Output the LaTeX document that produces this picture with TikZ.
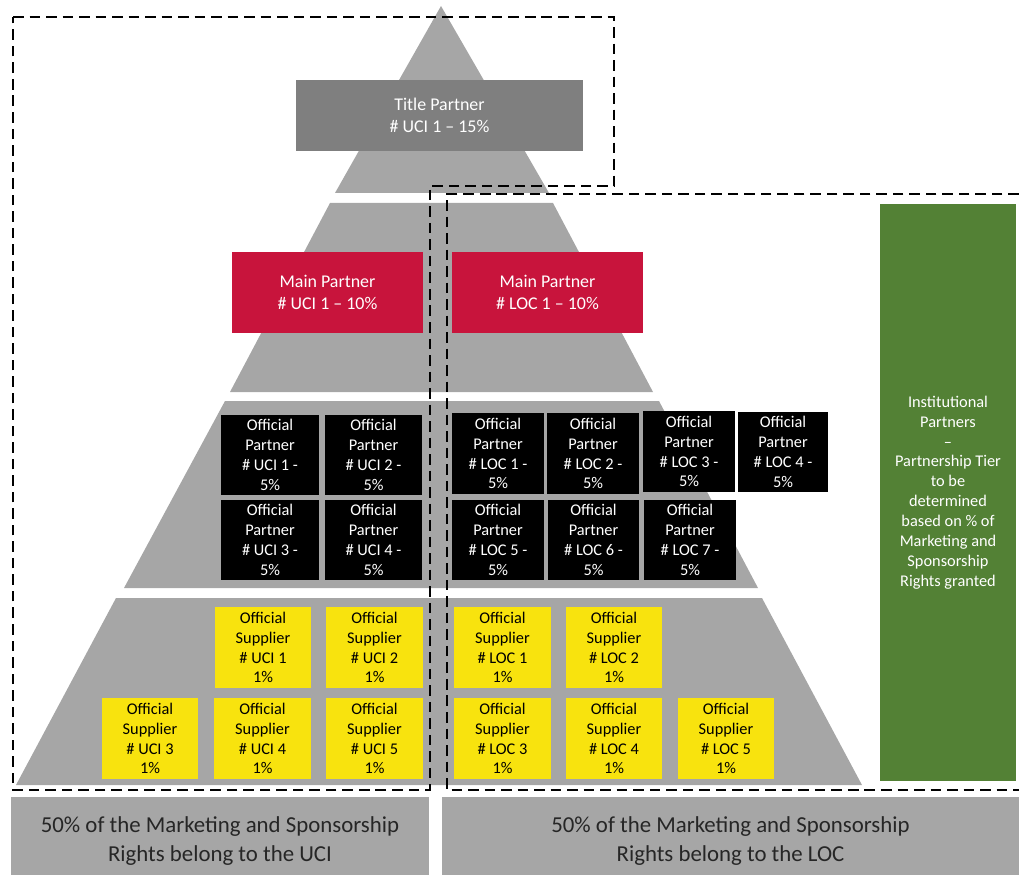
\documentclass[tikz,border=0pt]{standalone}
\usepackage{fontspec}
\setmainfont{Carlito}
\definecolor{pyrgray}{HTML}{A6A6A6}
\definecolor{titlegray}{HTML}{7F7F7F}
\definecolor{mainred}{HTML}{C8143C}
\definecolor{supyellow}{HTML}{F8E30E}
\definecolor{instgreen}{HTML}{538135}
\definecolor{sharetext}{HTML}{262626}
\begin{document}
\begin{tikzpicture}[x=0.02cm, y=-0.02cm,
    txt/.style={font=\fontsize{9.3}{11.3}\selectfont, align=center, inner sep=0pt},
    title/.style={fill=titlegray, text=white, font=\fontsize{10.2}{12.5}\selectfont, align=center, inner sep=0pt, minimum width=5.74cm, minimum height=1.42cm},
    main/.style={fill=mainred, text=white, font=\fontsize{10.2}{12.5}\selectfont, align=center, inner sep=0pt, minimum width=3.82cm, minimum height=1.62cm},
    partner/.style={txt, fill=black, text=white, minimum width=1.84cm, minimum height=1.62cm},
    supplier/.style={txt, fill=supyellow, text=black, minimum width=1.94cm, minimum height=1.62cm},
    inst/.style={txt, fill=instgreen, text=white, minimum width=2.72cm, minimum height=11.54cm},
    share/.style={fill=pyrgray, text=sharetext, font=\fontsize{13}{16.5}\selectfont, align=center, inner sep=0pt, minimum height=1.76cm},
    split/.style={line width=1.4pt, dash pattern=on 6pt off 3.4pt}]
    \useasboundingbox (0,0) rectangle (1019,875);

    % pyramid tiers
    \fill[pyrgray] (441,6) -- (549,193) -- (335,193) -- cycle;
    \fill[pyrgray] (330,203) -- (553,203) -- (653,392) -- (230,392) -- cycle;
    \fill[pyrgray] (225,401) -- (659,401) -- (758,588) -- (124,588) -- cycle;
    \fill[pyrgray] (116,598) -- (762,598) -- (862,785) -- (16,785) -- cycle;

    \node[title] (tp) at (439.5,115.5) {Title Partner\\\# UCI 1 – 15\%};
    \node[main] (mu) at (327.5,292.5) {Main Partner\\\# UCI 1 – 10\%};
    \node[main] (ml) at (547.5,292.5) {Main Partner\\\# LOC 1 – 10\%};

    \node[partner, minimum width=1.96cm] (pu1) at (270,455) {Official\\Partner\\\# UCI 1 -\\5\%};
    \node[partner, minimum width=1.96cm] (pu2) at (373.5,455) {Official\\Partner\\\# UCI 2 -\\5\%};
    \node[partner, minimum width=1.96cm] (pu3) at (270,540) {Official\\Partner\\\# UCI 3 -\\5\%};
    \node[partner, minimum width=1.96cm] (pu4) at (373.5,540) {Official\\Partner\\\# UCI 4 -\\5\%};
    \node[partner] (pl1) at (498,453.5) {Official\\Partner\\\# LOC 1 -\\5\%};
    \node[partner] (pl2) at (593,453.5) {Official\\Partner\\\# LOC 2 -\\5\%};
    \node[partner] (pl3) at (689,451.5) {Official\\Partner\\\# LOC 3 -\\5\%};
    \node[partner, minimum width=1.8cm] (pl4) at (783,452) {Official\\Partner\\\# LOC 4 -\\5\%};
    \node[partner] (pl5) at (498,540) {Official\\Partner\\\# LOC 5 -\\5\%};
    \node[partner] (pl6) at (593.5,540) {Official\\Partner\\\# LOC 6 -\\5\%};
    \node[partner] (pl7) at (690,540) {Official\\Partner\\\# LOC 7 -\\5\%};

    \node[supplier] (su1) at (263,647.5) {Official\\Supplier\\\# UCI 1\\1\%};
    \node[supplier] (su2) at (374.5,647.5) {Official\\Supplier\\\# UCI 2\\1\%};
    \node[supplier] (sl1) at (502.5,647.5) {Official\\Supplier\\\# LOC 1\\1\%};
    \node[supplier] (sl2) at (614,647.5) {Official\\Supplier\\\# LOC 2\\1\%};
    \node[supplier] (su3) at (150,738.5) {Official\\Supplier\\\# UCI 3\\1\%};
    \node[supplier] (su4) at (262.5,738.5) {Official\\Supplier\\\# UCI 4\\1\%};
    \node[supplier] (su5) at (374.5,738.5) {Official\\Supplier\\\# UCI 5\\1\%};
    \node[supplier] (sl3) at (502.5,738.5) {Official\\Supplier\\\# LOC 3\\1\%};
    \node[supplier] (sl4) at (614,738.5) {Official\\Supplier\\\# LOC 4\\1\%};
    \node[supplier] (sl5) at (726,738.5) {Official\\Supplier\\\# LOC 5\\1\%};

    \node[inst] (ip) at (948,492.5) {Institutional\\Partners\\–\\Partnership Tier\\to be\\determined\\based on \% of\\Marketing and\\Sponsorship\\Rights granted};

    \node[share, minimum width=8.36cm] (ru) at (220,841) {50\% of the Marketing and Sponsorship\\Rights belong to the UCI};
    \node[share, minimum width=11.54cm] (rl) at (730.5,841) {50\% of the Marketing and Sponsorship\\Rights belong to the LOC};

    % rights split
    \draw[split] (13,17) -- (614,17) -- (614,186) -- (430,186) -- (430,790) -- (13,790) -- cycle;
    \draw[split] (1019,194) -- (447,194) -- (447,790) -- (1019,790);
\end{tikzpicture}
\end{document}
